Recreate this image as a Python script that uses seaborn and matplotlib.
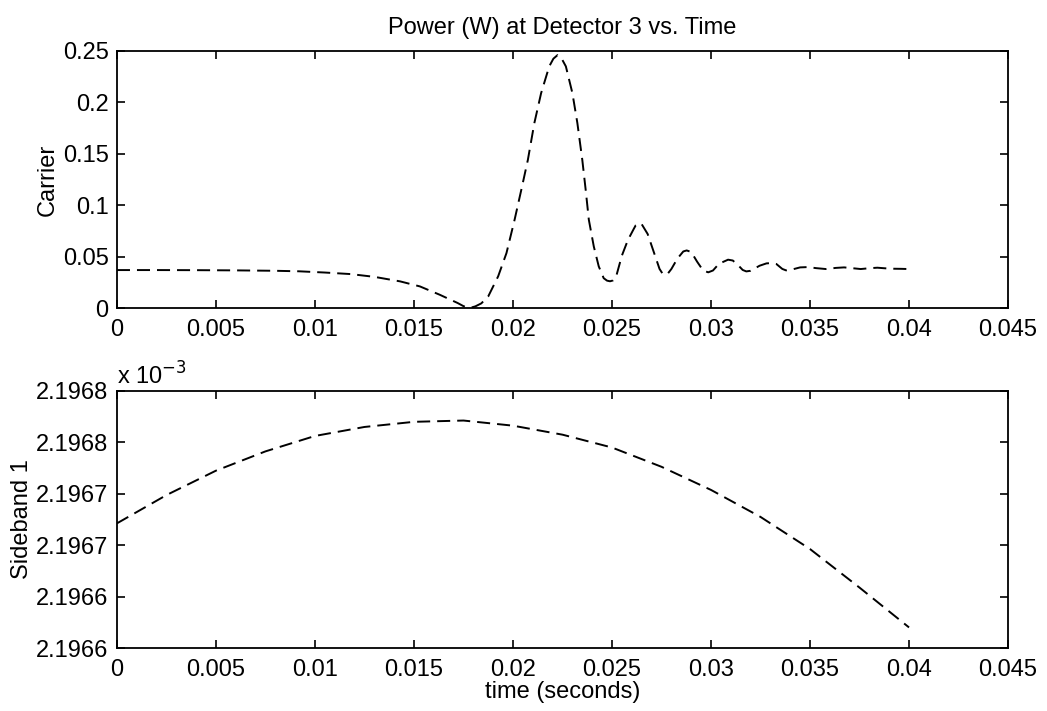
import numpy as np
import pandas as pd
import matplotlib
matplotlib.use("Agg")
import matplotlib.pyplot as plt
from matplotlib.ticker import FuncFormatter, FixedLocator
import seaborn as sns

# ---------------- data ----------------
title = "Power (W) at Detector 3 vs. Time"
top_ylabel = "Carrier"
bottom_ylabel = "Sideband 1"
xlabel = "time (seconds)"

carrier_t = [0.0, 0.002, 0.004, 0.006, 0.007, 0.008, 0.0092, 0.0105, 0.0118,
             0.013, 0.0143, 0.0153, 0.0163, 0.0172, 0.0175, 0.0177, 0.0179,
             0.0181, 0.0184, 0.01875, 0.01925, 0.01967, 0.02008, 0.02042,
             0.02075, 0.02108, 0.02142, 0.02183, 0.02204, 0.02225, 0.02246,
             0.02267, 0.023, 0.02325, 0.0235, 0.02367, 0.02383, 0.02408,
             0.02433, 0.02458, 0.02475, 0.0249, 0.02505, 0.0252, 0.0255,
             0.0258, 0.0261, 0.0262, 0.02637, 0.0265, 0.0268, 0.0271, 0.0274,
             0.02755, 0.02768, 0.0278, 0.028, 0.0283, 0.0286, 0.02877, 0.029,
             0.0293, 0.0296, 0.02986, 0.0301, 0.0304, 0.03086, 0.0311, 0.0314,
             0.0316, 0.03178, 0.032, 0.03245, 0.0328, 0.03304, 0.0333, 0.0336,
             0.03379, 0.0341, 0.0345, 0.03488, 0.0353, 0.0358, 0.0363, 0.03672,
             0.0372, 0.03756, 0.038, 0.0384, 0.0388, 0.03923, 0.0396, 0.04]
carrier_p = [0.0369, 0.0369, 0.0368, 0.0366, 0.0364, 0.0362, 0.0357, 0.0345,
             0.0330, 0.0303, 0.0259, 0.0210, 0.0129, 0.0049, 0.0018, 0.0006,
             0.0005, 0.0016, 0.0045, 0.0113, 0.0308, 0.0534, 0.0858, 0.1150,
             0.1440, 0.1800, 0.2090, 0.2350, 0.2425, 0.2460, 0.2425, 0.2350,
             0.2090, 0.1800, 0.1440, 0.1150, 0.0858, 0.0599, 0.0405, 0.0290,
             0.0266, 0.0260, 0.0268, 0.0300, 0.0510, 0.0660, 0.0770, 0.0805,
             0.0826, 0.0815, 0.0720, 0.0550, 0.0380, 0.0335, 0.0324, 0.0330,
             0.0380, 0.0480, 0.0550, 0.0560, 0.0545, 0.0450, 0.0365, 0.0347,
             0.0365, 0.0430, 0.0470, 0.0462, 0.0410, 0.0370, 0.0356, 0.0362,
             0.0411, 0.0434, 0.0437, 0.0428, 0.0380, 0.0366, 0.0375, 0.0395,
             0.0398, 0.0388, 0.0379, 0.0390, 0.0395, 0.0386, 0.0379, 0.0387,
             0.0392, 0.0386, 0.0382, 0.0381, 0.0379]

side_t = [0.0, 0.0025, 0.005, 0.0075, 0.01, 0.0125, 0.015, 0.0175, 0.02,
          0.0225, 0.025, 0.0275, 0.03, 0.0325, 0.035, 0.0375, 0.04]
side_p = [2.196697e-3, 2.196719e-3, 2.196738e-3, 2.196753e-3, 2.196765e-3,
          2.196772e-3, 2.196776e-3, 2.196777e-3, 2.196773e-3, 2.196766e-3,
          2.196756e-3, 2.196741e-3, 2.196723e-3, 2.196702e-3, 2.196677e-3,
          2.196647e-3, 2.196616e-3]

x_ticks = [0, 0.005, 0.01, 0.015, 0.02, 0.025, 0.03, 0.035, 0.04, 0.045]
top_yticks = [0, 0.05, 0.1, 0.15, 0.2, 0.25]
bot_yticks = [2.19660e-3, 2.19664e-3, 2.19668e-3, 2.19672e-3, 2.19676e-3, 2.19680e-3]

# ---------------- style ----------------
sns.set_theme(style="ticks")
plt.rcParams["font.family"] = ["Liberation Sans", "DejaVu Sans"]
plt.rcParams["axes.edgecolor"] = "black"
plt.rcParams["text.color"] = "black"
plt.rcParams["axes.labelcolor"] = "black"
plt.rcParams["xtick.color"] = "black"
plt.rcParams["ytick.color"] = "black"

FS = 17.0
LW = 1.4
dash = (0, (6.7, 3.6))

fig = plt.figure(figsize=(10.47, 7.11), dpi=100)
fig.patch.set_facecolor("white")
ax1 = fig.add_axes([0.1117, 0.5668, 0.8511, 0.3615])
ax2 = fig.add_axes([0.1117, 0.0886, 0.8511, 0.3615])

df1 = pd.DataFrame({"t": carrier_t, "p": carrier_p})
df2 = pd.DataFrame({"t": side_t, "p": side_p})

sns.lineplot(data=df1, x="t", y="p", ax=ax1, color="black", linewidth=LW,
             linestyle=dash, estimator=None, sort=False)
sns.lineplot(data=df2, x="t", y="p", ax=ax2, color="black", linewidth=LW,
             linestyle=dash, estimator=None, sort=False)

def gfmt(v, pos):
    return f"{v:g}"

for ax in (ax1, ax2):
    ax.set_facecolor("white")
    ax.set_xlim(0, 0.045)
    ax.xaxis.set_major_locator(FixedLocator(x_ticks))
    ax.xaxis.set_major_formatter(FuncFormatter(gfmt))
    ax.tick_params(direction="in", length=6, width=1.2, top=True, right=True,
                   labelsize=FS, pad=6)
    ax.tick_params(axis="x", pad=8)
    for s in ax.spines.values():
        s.set_visible(True)
        s.set_linewidth(1.3)
        s.set_color("black")
    ax.grid(False)

ax1.set_ylim(0, 0.25)
ax1.yaxis.set_major_locator(FixedLocator(top_yticks))
ax1.yaxis.set_major_formatter(FuncFormatter(gfmt))
ax1.set_xlabel("")
ax1.set_ylabel(top_ylabel, fontsize=FS, labelpad=3)
ax1.set_title(title, fontsize=FS, pad=12)

ax2.set_ylim(bot_yticks[0], bot_yticks[-1])
ax2.yaxis.set_major_locator(FixedLocator(bot_yticks))
ax2.yaxis.set_major_formatter(FuncFormatter(lambda v, p: f"{v*1e3:.4f}"))
ax2.set_ylabel(bottom_ylabel, fontsize=FS, labelpad=2)
ax2.set_xlabel(xlabel, fontsize=FS, labelpad=0)
ax2.text(0.0, 1.005, r"x 10$^{-3}$", transform=ax2.transAxes, fontsize=FS,
         ha="left", va="bottom")

fig.savefig("out.png", dpi=100, facecolor="white")
